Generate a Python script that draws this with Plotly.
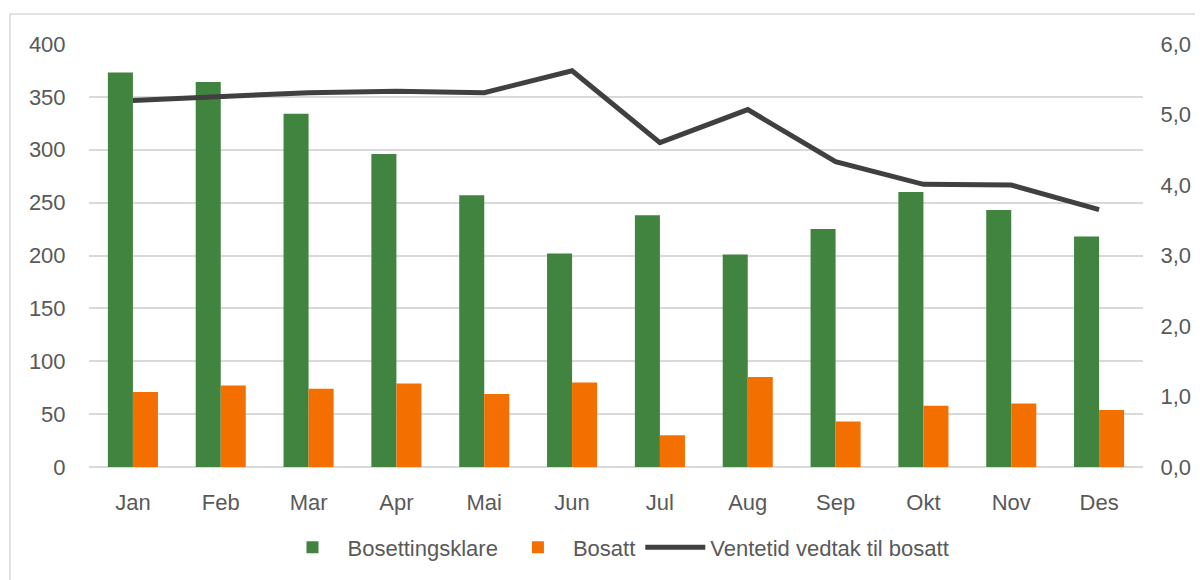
import plotly.graph_objects as go

months = ['Jan', 'Feb', 'Mar', 'Apr', 'Mai', 'Jun', 'Jul', 'Aug', 'Sep', 'Okt', 'Nov', 'Des']
bosettingsklare = [373, 364, 334, 296, 257, 202, 238, 201, 225, 260, 243, 218]
bosatt = [71, 77, 74, 79, 69, 80, 30, 85, 43, 58, 60, 54]
ventetid = [5.20, 5.25, 5.31, 5.33, 5.31, 5.62, 4.60, 5.07, 4.33, 4.01, 4.00, 3.65]

font_family = 'Liberation Sans'
text_color = '#595959'
grid_color = '#d9d9d9'

fig = go.Figure()

fig.add_trace(go.Bar(
    x=months, y=bosettingsklare, name='Bosettingsklare',
    marker=dict(color='#41843f', line=dict(width=0)),
))
fig.add_trace(go.Bar(
    x=months, y=bosatt, name='Bosatt',
    marker=dict(color='#f36f00', line=dict(width=0)),
))
fig.add_trace(go.Scatter(
    x=months, y=ventetid, name='Ventetid vedtak til bosatt',
    mode='lines', line=dict(color='#404040', width=5),
    yaxis='y2',
))

# thin outer border of the chart area
fig.add_shape(type='rect', xref='paper', yref='paper',
              x0=-0.075, x1=1.3, y0=-0.6, y1=1.071,
              line=dict(color=grid_color, width=1.5), layer='below')

# page body has an 8px margin, so the figure is a little smaller than the window
fig.update_layout(
    width=1195, height=572,
    margin=dict(l=81, r=60, t=36, b=113),
    paper_bgcolor='white', plot_bgcolor='white',
    separators=',.',
    barmode='group', bargap=0.43, bargroupgap=0,
    font=dict(family=font_family, size=22, color=text_color),
    showlegend=True,
    legend=dict(orientation='h', x=0.5, xanchor='center', y=-0.19, yanchor='middle',
                font=dict(size=22, color=text_color), itemwidth=60, tracegroupgap=0),
    xaxis=dict(showgrid=False, showline=False, ticks='outside', ticklen=16,
               tickcolor='rgba(0,0,0,0)', tickfont=dict(size=22, color=text_color)),
    yaxis=dict(range=[0, 400], dtick=50, showgrid=True, gridcolor=grid_color, gridwidth=1.5,
               zeroline=True, zerolinecolor=grid_color, zerolinewidth=1.5,
               ticks='outside', ticklen=18, tickcolor='rgba(0,0,0,0)',
               tickfont=dict(size=22, color=text_color)),
    yaxis2=dict(range=[0, 6], dtick=1, tickformat='.1f', overlaying='y', side='right',
                showgrid=False, zeroline=False, ticks='outside', ticklen=12,
                tickcolor='rgba(0,0,0,0)', tickfont=dict(size=22, color=text_color)),
)

fig.write_html('out.html')
